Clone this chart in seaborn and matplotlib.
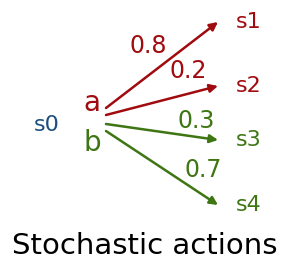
import matplotlib
matplotlib.use("Agg")
import matplotlib.pyplot as plt
import seaborn as sns

# ── dados do diagrama ─────────────────────────────────────────────────────────
origem = "s0"
acoes = ["a", "a", "b", "b"]
destinos = ["s1", "s2", "s3", "s4"]
probs = [0.8, 0.2, 0.3, 0.7]
titulo = "Stochastic actions"

sns.set_theme(style="white")
plt.rcParams["font.family"] = ["DejaVu Sans"]

cores = {"a": "#a00b10", "b": "#3d7612", "s0": "#1d4e7e"}

fig, ax = plt.subplots(figsize=(2.87, 2.65), dpi=100)
fig.subplots_adjust(0, 0, 1, 1)
ax.set_xlim(0, 287)
ax.set_ylim(265, 0)
ax.axis("off")

# layout (pixels): linhas dos estados de destino e pontos de saída
y_dest = dict(zip(destinos, [22, 86, 140, 205]))
y_acao = {"a": 103, "b": 143}
y_saida = {"a": [108, 115], "b": [124, 131]}
lab_pos = [(148, 46), (188, 71), (196, 121), (203, 170)]

ax.text(47, 125, origem, color=cores["s0"], fontsize=16, ha="center", va="center")
for ac, y in y_acao.items():
    ax.text(92, y, ac, color=cores[ac], fontsize=20, ha="center", va="center")

for i, (ac, d, p) in enumerate(zip(acoes, destinos, probs)):
    c = cores[ac]
    y0 = y_saida[ac][i % 2]
    ax.annotate("", xy=(218, y_dest[d]), xytext=(106, y0),
                arrowprops=dict(arrowstyle="-|>", color=c, lw=1.8,
                                mutation_scale=12, shrinkA=0, shrinkB=0))
    ax.text(249, y_dest[d], d, color=c, fontsize=16, ha="center", va="center")
    ax.text(*lab_pos[i], f"{p}", color=c, fontsize=17, ha="center", va="center")

ax.text(145, 246, titulo, color="black", fontsize=21, ha="center", va="center")

plt.savefig("out.png", dpi=100)
plt.close()
